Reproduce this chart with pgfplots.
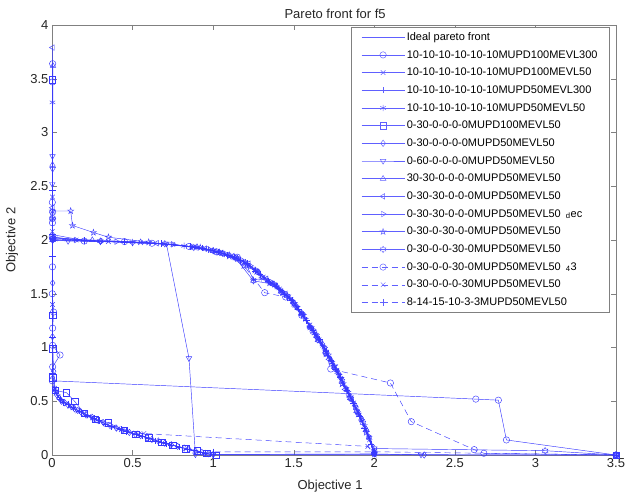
\documentclass[border=0pt]{standalone}
\usepackage{fontspec}
\setmainfont{Liberation Sans}
\usepackage{pgfplots}
\pgfplotsset{compat=1.18}
\definecolor{mblue}{rgb}{0.22,0.22,1}
\definecolor{axgray}{rgb}{0.5,0.5,0.5}
\definecolor{txt}{rgb}{0.15,0.15,0.15}
\pgfdeclareplotmark{pgram}{%
 \pgfpathmoveto{\pgfpointpolar{90}{\pgfplotmarksize}}%
 \pgfpathlineto{\pgfpointpolar{126}{0.382\pgfplotmarksize}}%
 \pgfpathlineto{\pgfpointpolar{162}{\pgfplotmarksize}}%
 \pgfpathlineto{\pgfpointpolar{198}{0.382\pgfplotmarksize}}%
 \pgfpathlineto{\pgfpointpolar{234}{\pgfplotmarksize}}%
 \pgfpathlineto{\pgfpointpolar{270}{0.382\pgfplotmarksize}}%
 \pgfpathlineto{\pgfpointpolar{306}{\pgfplotmarksize}}%
 \pgfpathlineto{\pgfpointpolar{342}{0.382\pgfplotmarksize}}%
 \pgfpathlineto{\pgfpointpolar{18}{\pgfplotmarksize}}%
 \pgfpathlineto{\pgfpointpolar{54}{0.382\pgfplotmarksize}}%
 \pgfpathclose\pgfusepathqstroke}
\pgfdeclareplotmark{hgram}{%
 \pgfpathmoveto{\pgfpointpolar{90}{\pgfplotmarksize}}%
 \pgfpathlineto{\pgfpointpolar{120}{0.577\pgfplotmarksize}}%
 \pgfpathlineto{\pgfpointpolar{150}{\pgfplotmarksize}}%
 \pgfpathlineto{\pgfpointpolar{180}{0.577\pgfplotmarksize}}%
 \pgfpathlineto{\pgfpointpolar{210}{\pgfplotmarksize}}%
 \pgfpathlineto{\pgfpointpolar{240}{0.577\pgfplotmarksize}}%
 \pgfpathlineto{\pgfpointpolar{270}{\pgfplotmarksize}}%
 \pgfpathlineto{\pgfpointpolar{300}{0.577\pgfplotmarksize}}%
 \pgfpathlineto{\pgfpointpolar{330}{\pgfplotmarksize}}%
 \pgfpathlineto{\pgfpointpolar{0}{0.577\pgfplotmarksize}}%
 \pgfpathlineto{\pgfpointpolar{30}{\pgfplotmarksize}}%
 \pgfpathlineto{\pgfpointpolar{60}{0.577\pgfplotmarksize}}%
 \pgfpathclose\pgfusepathqstroke}
\tikzset{mb/.style={draw=mblue, color=mblue, line width=0.45pt, mark size=3.2pt}, dsh/.style={dash pattern=on 6pt off 4pt}}
\begin{document}
\begin{tikzpicture}
\begin{axis}[
 scale only axis, width=564pt, height=430pt,
 xmin=0, xmax=3.5, ymin=0, ymax=4,
 xtick={0,0.5,1,1.5,2,2.5,3,3.5},
 ytick={0,0.5,1,1.5,2,2.5,3,3.5,4},
 tick align=inside, major tick length=5pt,
 axis line style={axgray}, every tick/.style={axgray},
 tick label style={font=\fontsize{13}{13}\selectfont, text=txt},
 /pgf/number format/assume math mode=true,
 title={Pareto front for f5},
 title style={font=\fontsize{13}{13}\selectfont, text=txt, at={(axis description cs:0.502,1)}, anchor=base, yshift=0.5pt},
 xlabel={Objective 1}, ylabel={Objective 2},
 xlabel style={font=\fontsize{13}{13}\selectfont, text=txt, at={(axis description cs:0.493,-0.072)}, anchor=center},
 ylabel style={font=\fontsize{13}{13}\selectfont, text=txt, at={(axis description cs:-0.071,0.5)}, anchor=center},
 legend style={at={(0.989,0.995)}, anchor=north east, font=\fontsize{11}{13}\selectfont, draw=axgray, row sep=4.5pt, inner xsep=10pt, inner ysep=3pt},
 legend cell align=left,
 legend image code/.code={\color{mblue}\draw[mark repeat=2,mark phase=2,#1,draw=mblue!80,line width=0.45pt] plot coordinates {(0pt,0pt) (21.5pt,0pt) (43pt,0pt)};},
]
% 1 ideal
\addplot[mb, no marks] coordinates {(0,0.72)(0.005,0.66)(0.01,0.63)(0.02,0.585)(0.03,0.555)(0.05,0.52)(0.08,0.49)(0.11,0.46)(0.15,0.42)(0.2,0.38)(0.25,0.34)(0.3,0.31)(0.36,0.27)(0.42,0.235)(0.5,0.2)(0.57,0.17)(0.65,0.13)(0.72,0.1)(0.8,0.07)(0.87,0.045)(0.93,0.025)(1.0,0.0)};
\addlegendentry{Ideal pareto front}
% 2 o
\addplot[mb, mark=o] coordinates {(0.004,3.64)(0.003,3.47)(0.002,2.35)(0.004,2.26)(0.003,2.16)(0.002,2.03)(0.003,1.75)(0.002,1.5)(0.01,1.33)(0.004,1.18)(0.004,1.02)(0.05,0.93)(0.004,0.82)(0.002,0.69)(2.63,0.52)(2.77,0.51)(2.82,0.14)(3.5,0.0)};
\addlegendentry{10-10-10-10-10-10MUPD100MEVL300}
% 3 x
\addplot[mb, mark=x] coordinates {(0.003,2.4)(0.002,2.08)(0.02,2.01)(0.15,2.0)(0.35,1.985)(0.55,1.975)(0.75,1.96)(0.88,1.935)(0.95,1.92)(1.02,1.89)(1.08,1.865)(1.13,1.84)(1.18,1.8)(1.22,1.76)(1.27,1.7)(1.31,1.655)(1.36,1.6)(1.42,1.53)(1.47,1.47)(1.51,1.4)(1.56,1.3)(1.6,1.21)(1.64,1.11)(1.68,1.02)(1.72,0.92)(1.76,0.82)(1.8,0.7)(1.83,0.61)(1.86,0.52)(1.89,0.42)(1.92,0.33)(1.95,0.22)(1.97,0.14)(2.0,0.02)};
\addlegendentry{10-10-10-10-10-10MUPD100MEVL50}
% 4 +
\addplot[mb, mark=+] coordinates {(0.002,2.46)(0.003,2.05)(0.2,1.995)(0.45,1.982)(0.68,1.968)(0.86,1.94)(0.93,1.925)(1.03,1.89)(1.09,1.86)(1.13,1.84)(1.17,1.81)(1.21,1.78)(1.26,1.71)(1.29,1.68)(1.34,1.62)(1.39,1.57)(1.44,1.5)(1.49,1.44)(1.53,1.36)(1.58,1.25)(1.62,1.16)(1.66,1.08)(1.7,0.97)(1.73,0.88)(1.76,0.8)(1.79,0.72)(1.83,0.6)(1.87,0.48)(1.91,0.36)(1.94,0.25)(1.98,0.1)(2.0,0.01)};
\addlegendentry{10-10-10-10-10-10MUPD50MEVL300}
% 5 asterisk
\addplot[mb, mark=asterisk] coordinates {(0.003,3.28)(0.004,2.2)(0.003,2.0)(0.5,1.98)(0.82,1.945)(0.87,1.935)(0.9,1.93)(0.97,1.91)(1.0,1.9)(1.02,1.89)(1.07,1.87)(1.11,1.85)(1.15,1.83)(1.2,1.79)(1.25,1.63)(1.3,1.64)(1.36,1.6)(1.38,1.59)(1.41,1.55)(1.44,1.5)(1.48,1.45)(1.52,1.37)(1.55,1.31)(1.6,1.19)(1.63,1.13)(1.66,1.06)(1.69,1.0)(1.71,0.93)(1.74,0.86)(1.77,0.77)(1.79,0.72)(1.81,0.66)(1.84,0.58)(1.87,0.49)(1.9,0.39)(1.94,0.27)(1.97,0.16)(2.0,0.04)};
\addlegendentry{10-10-10-10-10-10MUPD50MEVL50}
% 6 square
\addplot[mb, mark=square] coordinates {(0.003,3.49)(0.004,1.3)(0.004,0.99)(0.005,0.72)(0.02,0.6)(0.09,0.58)(0.14,0.5)(0.2,0.39)(0.27,0.335)(0.35,0.3)(0.45,0.23)(0.52,0.195)(0.6,0.16)(0.68,0.12)(0.75,0.09)(0.83,0.06)(0.9,0.04)(0.96,0.015)(1.02,0.0)(3.5,0.0)};
\addlegendentry{0-30-0-0-0-0MUPD100MEVL50}
% 7 diamond
\addplot[mb, mark=diamond] coordinates {(0.003,2.0)(0.004,1.6)(0.003,1.1)(0.01,0.78)(0.02,0.6)(0.03,0.56)(0.045,0.53)(0.06,0.5)(0.08,0.485)(0.1,0.465)(0.12,0.45)(0.14,0.43)(0.16,0.415)(0.18,0.4)(0.21,0.375)(0.25,0.35)(0.28,0.325)(0.32,0.3)(0.36,0.275)(0.4,0.25)(0.44,0.23)(0.48,0.21)(0.52,0.19)(0.55,0.18)(0.59,0.16)(0.62,0.145)(0.66,0.13)(0.7,0.11)(0.74,0.095)(0.78,0.08)(0.82,0.065)(0.85,0.052)(0.89,0.038)(0.93,0.025)(0.97,0.012)(1.0,0.005)(2.0,0.01)(2.31,0.0)(3.5,0.0)};
\addlegendentry{0-30-0-0-0-0MUPD50MEVL50}
% 8 triangle down
\addplot[mb, mark=triangle, mark options={rotate=180}] coordinates {(0.003,2.78)(0.004,2.66)(0.002,2.52)(0.005,2.0)(0.1,1.99)(0.3,1.985)(0.5,1.975)(0.71,1.965)(0.85,0.9)(0.89,0.005)(1.0,0.003)(2.29,0.003)(3.5,0.0)};
\addlegendentry{0-60-0-0-0-0MUPD50MEVL50}
% 9 triangle up
\addplot[mb, mark=triangle] coordinates {(0.006,3.62)(0.003,2.7)(0.004,2.02)(0.25,2.0)(0.55,1.98)(0.9,1.935)(1.0,1.9)(1.1,1.86)(1.15,1.83)(1.2,1.79)(1.28,1.7)(1.34,1.62)(1.4,1.56)(1.46,1.48)(1.5,1.42)(1.55,1.32)(1.6,1.2)(1.64,1.11)(1.68,1.03)(1.73,0.89)(1.78,0.76)(1.83,0.61)(1.88,0.47)(1.92,0.34)(1.95,0.24)(2.0,0.03)};
\addlegendentry{30-30-0-0-0-0MUPD50MEVL50}
% 10 triangle left
\addplot[mb, mark=triangle, mark options={rotate=90}] coordinates {(0.004,3.79)(0.003,2.3)(0.003,2.02)(0.3,1.99)(0.65,1.97)(0.95,1.92)(1.05,1.88)(1.12,1.85)(1.22,1.78)(1.28,1.69)(1.33,1.64)(1.39,1.57)(1.45,1.5)(1.5,1.41)(1.55,1.31)(1.63,1.14)(1.67,1.05)(1.72,0.89)(1.77,0.78)(1.82,0.61)(1.86,0.51)(1.9,0.39)(1.97,0.15)(2.0,0.01)};
\addlegendentry{0-30-30-0-0-0MUPD50MEVL50}
% 11 triangle right
\addplot[mb, mark=triangle, mark options={rotate=-90}] coordinates {(0.003,2.2)(0.003,2.03)(0.15,2.0)(0.4,1.985)(0.75,1.96)(0.98,1.91)(1.05,1.88)(1.17,1.82)(1.23,1.76)(1.27,1.72)(1.36,1.61)(1.42,1.53)(1.47,1.46)(1.52,1.38)(1.57,1.27)(1.64,1.12)(1.69,1.0)(1.73,0.87)(1.78,0.75)(1.84,0.56)(1.88,0.45)(1.92,0.33)(1.96,0.18)(2.0,0.02)};
\addlegendentry{0-30-30-0-0-0MUPD50MEVL50\hspace{5pt}\textsubscript{d}ec}
% 12 pentagram
\addplot[mb, mark=pgram] coordinates {(0.003,2.27)(0.116,2.27)(0.127,2.135)(0.257,2.07)(0.35,2.026)(0.6,1.98)(0.92,1.93)(1.04,1.885)(1.1,1.85)(1.19,1.76)(1.26,1.72)(1.35,1.6)(1.43,1.51)(1.5,1.41)(1.56,1.3)(1.6,1.19)(1.65,1.08)(1.7,0.94)(1.75,0.83)(1.8,0.66)(1.85,0.54)(1.9,0.38)(1.95,0.21)(2.0,0.02)};
\addlegendentry{0-30-0-30-0-0MUPD50MEVL50}
% 13 hexagram
\addplot[mb, mark=hgram] coordinates {(0.004,2.0)(0.3,1.99)(0.7,1.965)(0.88,1.93)(1.0,1.9)(1.06,1.875)(1.14,1.83)(1.25,1.62)(1.37,1.59)(1.42,1.52)(1.46,1.48)(1.51,1.39)(1.55,1.31)(1.61,1.18)(1.65,1.07)(1.7,0.96)(1.75,0.82)(1.8,0.69)(1.85,0.53)(1.89,0.41)(1.93,0.3)(2.0,0.06)(3.06,0.04)(3.5,0.0)};
\addlegendentry{0-30-0-0-30-0MUPD50MEVL50}
% 14 dashed o
\addplot[mb, dsh, mark=o, mark options={solid}] coordinates {(0.003,2.2)(0.005,2.01)(0.2,1.99)(0.45,1.985)(0.62,1.97)(0.85,1.94)(1.02,1.89)(1.15,1.84)(1.32,1.51)(1.45,1.47)(1.55,1.3)(1.62,1.15)(1.7,0.95)(1.73,0.8)(2.1,0.67)(2.23,0.31)(2.62,0.05)(2.68,0.016)(3.5,0.0)};
\addlegendentry{0-30-0-0-30-0MUPD50MEVL50\hspace{5pt}\textsubscript{4}3}
% 15 dashed x
\addplot[mb, dsh, mark=x, mark options={solid}] coordinates {(0.003,1.4)(0.004,0.74)(0.015,0.62)(0.025,0.575)(0.04,0.54)(0.065,0.5)(0.09,0.48)(0.11,0.455)(0.13,0.44)(0.16,0.41)(0.2,0.385)(0.23,0.36)(0.25,0.345)(0.27,0.335)(0.3,0.31)(0.34,0.285)(0.38,0.26)(0.41,0.245)(0.43,0.235)(0.47,0.22)(0.52,0.205)(0.57,0.2)(1.96,0.08)(2.0,0.0)};
\addlegendentry{0-30-0-0-0-30MUPD50MEVL50}
% 16 dashed +
\addplot[mb, dsh, mark=+, mark options={solid}] coordinates {(0.003,1.85)(0.004,1.1)(0.003,0.76)(0.02,0.6)(0.05,0.52)(0.07,0.49)(0.1,0.47)(0.13,0.44)(0.17,0.41)(0.22,0.37)(0.26,0.34)(0.29,0.32)(0.33,0.29)(0.37,0.265)(0.43,0.24)(0.46,0.22)(0.52,0.19)(0.56,0.175)(0.6,0.155)(0.64,0.13)(0.68,0.12)(0.71,0.105)(0.74,0.095)(0.79,0.075)(0.84,0.055)(0.88,0.042)(0.92,0.03)(0.95,0.02)(1.0,0.03)(2.0,0.03)(3.5,0.0)};
\addlegendentry{8-14-15-10-3-3MUPD50MEVL50}
\end{axis}
\pgfresetboundingbox
\path[use as bounding box] (-52pt,-44pt) rectangle (575pt,455pt);
\end{tikzpicture}
\end{document}
